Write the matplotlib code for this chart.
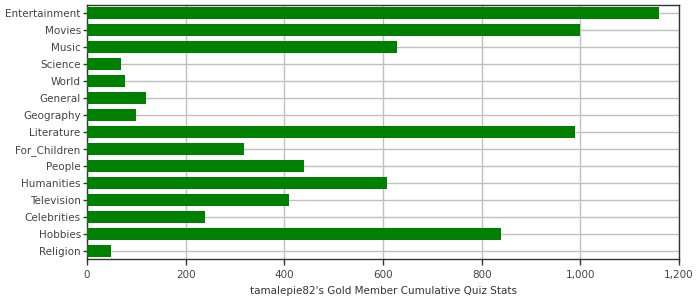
import matplotlib
matplotlib.use("Agg")
import matplotlib.pyplot as plt
from matplotlib.ticker import FuncFormatter

categories = ["Entertainment", "Movies", "Music", "Science", "World", "General",
              "Geography", "Literature", "For_Children", "People", "Humanities",
              "Television", "Celebrities", "Hobbies", "Religion"]
values = [1160, 1000, 628, 68, 78, 120, 100, 990, 318, 440, 608, 410, 240, 840, 48]

fig = plt.figure(figsize=(7, 3), dpi=100)
ax = fig.add_axes([87 / 700, 41 / 300, 592 / 700, 254 / 300])

ypos = list(range(len(categories)))
ax.barh(ypos, values, height=0.71, color="#008000", zorder=3)

ax.set_ylim(len(categories) - 0.5, -0.5)
ax.set_xlim(0, 1200)
ax.set_yticks(ypos)
ax.set_yticklabels(categories)
ax.set_xticks(range(0, 1201, 200))
ax.xaxis.set_major_formatter(FuncFormatter(lambda v, p: "{:,.0f}".format(v)))

ax.grid(True, color="#c0c0c0", linewidth=1, zorder=0)
ax.set_axisbelow(True)
for s in ax.spines.values():
    s.set_color("#333333")
    s.set_linewidth(1)

ax.tick_params(axis="both", labelsize=7.5, colors="#444444", width=1)
ax.tick_params(axis="both", color="#333333")
ax.tick_params(axis="x", length=4, pad=4)
ax.tick_params(axis="y", length=3, pad=1.5)
ax.set_xlabel("tamalepie82's Gold Member Cumulative Quiz Stats", fontsize=7.5,
              color="#333333", labelpad=4)

fig.savefig("out.png", dpi=100)
